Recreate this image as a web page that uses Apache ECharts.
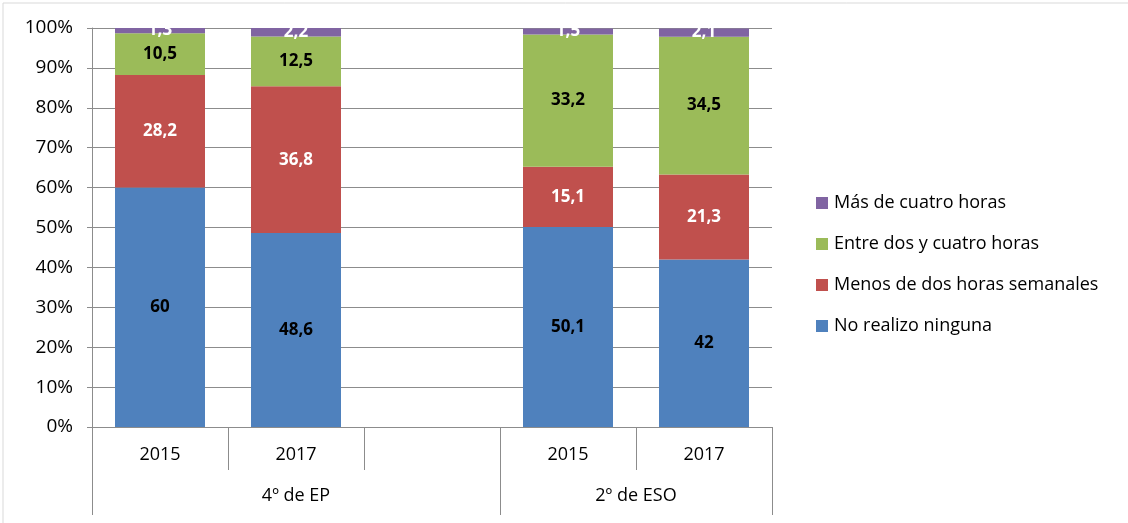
<!DOCTYPE html>
<html>
<head>
<meta charset="utf-8">
<script src="https://cdn.jsdelivr.net/npm/echarts@6/dist/echarts.min.js"></script>
<style>
  html, body { margin: 0; padding: 0; background: #fff; }
  #chart { width: 1128px; height: 523px; }
</style>
</head>
<body>
<div id="chart"></div>
<script>
  // categories: 5 slots, the middle one is an empty spacer between groups
  const years = ['2015', '2017', '', '2015', '2017'];
  const groupLabels = ['', '', '', '4º de EP', '', '', '', '', '2º de ESO', '', ''];
  const yTicks = [0, 10, 20, 30, 40, 50, 60, 70, 80, 90, 100];

  const noRealizo = [60, 48.6, null, 50.1, 42];
  const menosDos = [28.2, 36.8, null, 15.1, 21.3];
  const entreDos = [10.5, 12.5, null, 33.2, 34.5];
  const masCuatro = [1.3, 2.2, null, 1.5, 2.1];

  const names = ['No realizo ninguna', 'Menos de dos horas semanales', 'Entre dos y cuatro horas', 'Más de cuatro horas'];
  const colors = ['#4f81bd', '#c0504d', '#9bbb59', '#8064a2'];
  const labelColors = ['#000', '#fff', '#000', '#fff'];
  const values = [noRealizo, menosDos, entreDos, masCuatro];

  const font = '"Open Sans", Lato, sans-serif';
  const axisGray = '#8c8c8c';

  const chart = echarts.init(document.getElementById('chart'));

  const series = values.map((data, i) => ({
    name: names[i],
    type: 'bar',
    stack: 'total',
    barWidth: 90,
    xAxisIndex: 0,
    data: data,
    itemStyle: { color: colors[i] },
    label: {
      show: true,
      position: 'inside',
      formatter: (p) => String(p.value).replace('.', ','),
      color: labelColors[i],
      fontFamily: font,
      fontWeight: 'bold',
      fontSize: 17
    }
  }));

  chart.setOption({
    animation: false,
    textStyle: { fontFamily: font },
    graphic: [
      { type: 'line', shape: { x1: 3, y1: 3, x2: 1128, y2: 3 }, style: { stroke: '#d9d9d9', lineWidth: 1 } },
      { type: 'line', shape: { x1: 3, y1: 3, x2: 3, y2: 523 }, style: { stroke: '#d9d9d9', lineWidth: 1 } }
    ],
    grid: { left: 92, top: 28, width: 680, height: 399, containLabel: false },
    legend: {
      orient: 'vertical',
      left: 811,
      top: 189,
      itemWidth: 12,
      itemHeight: 12,
      itemGap: 23,
      icon: 'rect',
      data: names.slice().reverse(),
      textStyle: { fontFamily: font, fontSize: 18, lineHeight: 18, color: '#000', padding: [0, 0, 0, 1] }
    },
    xAxis: [
      {
        type: 'category',
        data: years,
        position: 'bottom',
        axisLine: { show: true, lineStyle: { color: axisGray } },
        axisTick: { show: true, length: 43, lineStyle: { color: axisGray } },
        axisLabel: { interval: 0, margin: 19, fontSize: 18, color: '#000', fontFamily: font }
      },
      {
        type: 'category',
        data: groupLabels,
        boundaryGap: false,
        position: 'bottom',
        axisLine: { show: false },
        axisTick: {
          show: true,
          length: 88,
          interval: (idx) => idx === 0 || idx === 6 || idx === 10,
          lineStyle: { color: axisGray }
        },
        axisLabel: { interval: 0, margin: 60, fontSize: 18, color: '#000', fontFamily: font }
      }
    ],
    yAxis: {
      type: 'value',
      min: 0,
      max: 100,
      interval: 10,
      axisLine: { show: true, lineStyle: { color: axisGray } },
      axisTick: { show: true, length: 5, lineStyle: { color: axisGray } },
      splitLine: { lineStyle: { color: axisGray } },
      axisLabel: {
        margin: 19,
        fontSize: 19,
        color: '#000',
        fontFamily: font,
        formatter: (v) => (yTicks.includes(v) ? v + '%' : '')
      }
    },
    series: series
  });
</script>
</body>
</html>
